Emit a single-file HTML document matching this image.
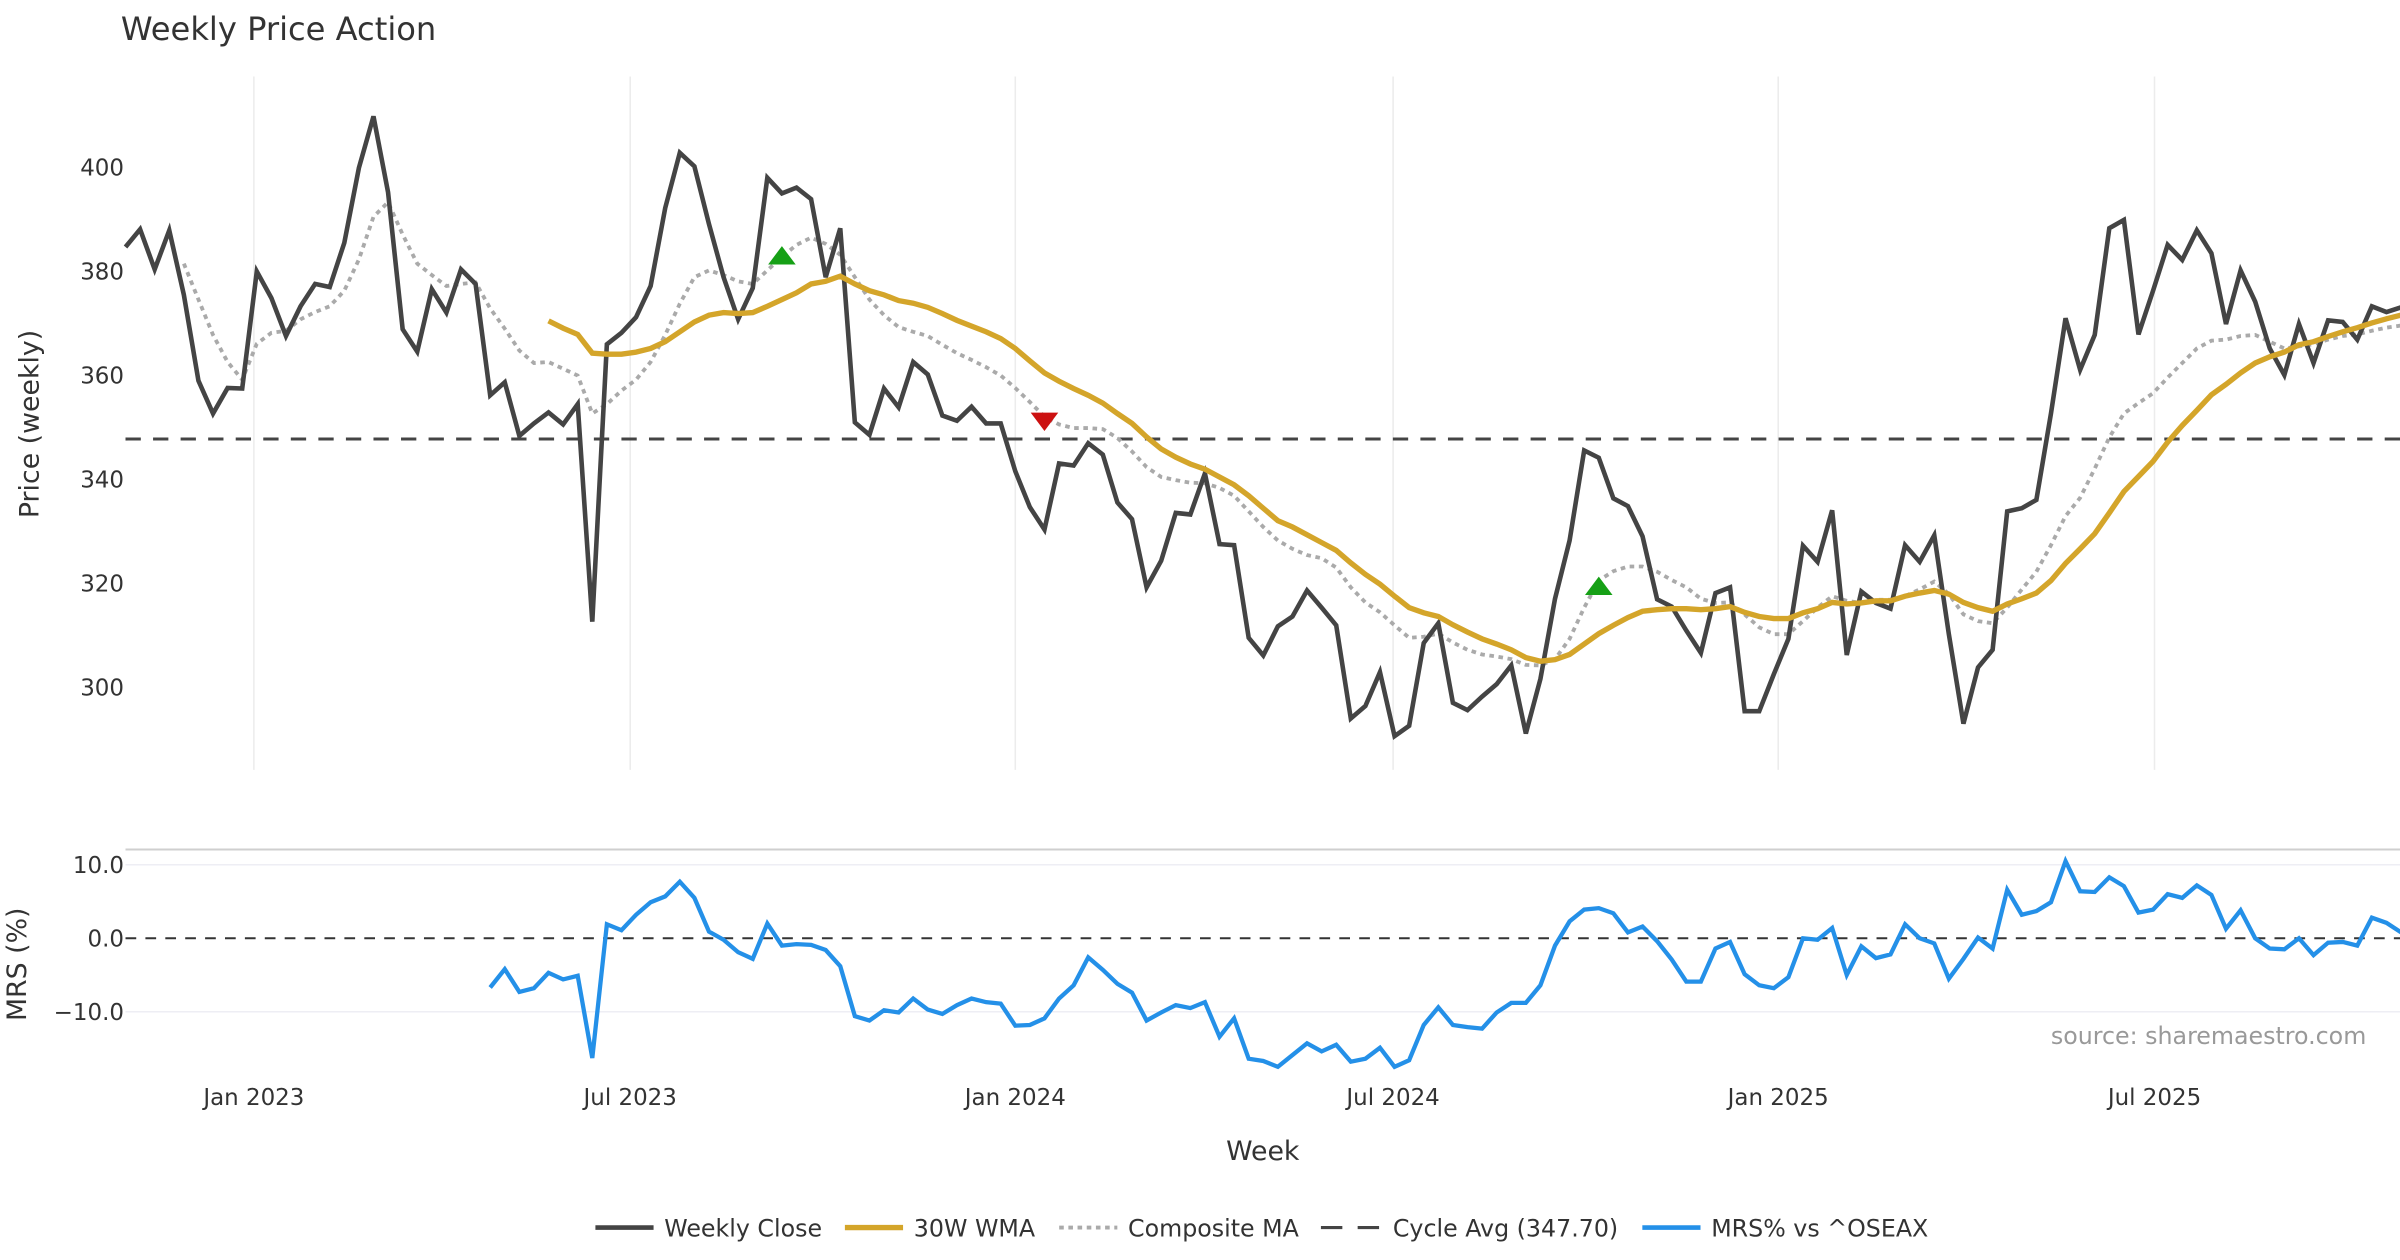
<!DOCTYPE html>
<html><head><meta charset="utf-8"><style>
html,body{margin:0;padding:0;background:#fff;}
svg{display:block;font-family:"DejaVu Sans","Liberation Sans",sans-serif;}
</style></head><body>
<svg id="chart" width="2400" height="1260" viewBox="0 0 1568 823.2">
<text x="79" y="26" font-size="21" fill="#333">Weekly Price Action</text>
<g id="grid"></g>
<g id="axes"></g>
<g id="series"></g>
<text transform="translate(25,277) rotate(-90)" text-anchor="middle" font-size="17.5" fill="#333">Price (weekly)</text>
<text transform="translate(17,630) rotate(-90)" text-anchor="middle" font-size="17.5" fill="#333">MRS (%)</text>
<text x="825" y="758" text-anchor="middle" font-size="17.5" fill="#333">Week</text>
<text x="1546" y="682" text-anchor="end" font-size="15.5" fill="#999">source: sharemaestro.com</text>
<g font-size="15.5" fill="#333">
 <g><line x1="389" y1="802" x2="427" y2="802" stroke="#444" stroke-width="3"/><text x="434" y="808">Weekly Close</text></g>
 <g><line x1="552" y1="802" x2="590" y2="802" stroke="#d4a52a" stroke-width="3.5"/><text x="597" y="808">30W WMA</text></g>
 <g><line x1="692" y1="802" x2="730" y2="802" stroke="#aaa" stroke-width="2.5" stroke-dasharray="3,3"/><text x="737" y="808">Composite MA</text></g>
 <g><line x1="863" y1="802" x2="901" y2="802" stroke="#444" stroke-width="2" stroke-dasharray="14,10"/><text x="910" y="808">Cycle Avg (347.70)</text></g>
 <g><line x1="1073" y1="802" x2="1111" y2="802" stroke="#2490e8" stroke-width="3"/><text x="1118" y="808">MRS% vs ^OSEAX</text></g>
</g>
</svg>
<script>
const closeVals=[384.6,388,380.3,387.8,375.4,358.9,352.6,357.5,357.4,379.9,374.8,367.5,373.2,377.5,376.9,385.4,399.8,409.7,395.1,368.8,364.5,376.5,372,380.3,377.5,356.1,358.6,348.3,350.7,352.8,350.5,354.4,312.6,365.9,368.1,371.1,377.1,392.1,402.7,400.1,
389,378.8,370.7,376.7,397.9,394.9,396,393.8,378.8,388.2,350.9,348.5,357.4,353.8,362.5,360.1,352.2,351.2,353.9,350.7,350.7,341.5,334.6,330.3,343,342.6,346.9,344.7,335.5,332.3,319.2,324.3,333.5,333.2,341.1,327.5,327.3,309.5,306.1,311.7,
313.6,318.6,315.3,311.9,294,296.4,302.9,290.6,292.6,308.5,312.3,297,295.6,298.2,300.6,304.2,291.1,301.6,317,328.2,345.5,344.1,336.3,334.8,329,316.9,315.5,310.9,306.6,318.1,319.2,295.4,295.4,302.5,309.3,327.2,324.1,334,
306.2,318.4,316.2,315.1,327.3,324.1,329.2,310.2,293,303.8,307.2,333.8,334.4,336,352.6,370.9,361,367.7,388.2,389.8,367.8,376.2,385,382.1,387.8,383.4,369.8,380.1,374.1,365.1,360,369.8,362.3,370.5,370.2,366.8,373.2,372.1,373];
const wmaStart=29;
const wmaVals=[370.4,369,367.8,364.2,364,364,364.4,365.1,366.4,368.3,370.2,
371.5,372,371.8,372,373.2,374.5,375.8,377.5,378,379,377.5,376.2,375.4,374.3,373.8,373,371.8,370.5,369.4,368.3,367,365.1,362.7,360.4,358.8,357.4,356.1,354.6,352.6,350.7,348.1,345.8,344.2,342.9,341.9,340.4,338.9,336.8,334.4,332,
330.8,329.3,327.8,326.3,323.9,321.7,319.8,317.5,315.3,314.3,313.6,312,310.6,309.3,308.3,307.2,305.7,305,305.3,306.3,308.3,310.3,311.9,313.4,314.6,314.9,315.1,315.1,314.9,315.1,315.5,314.4,313.6,313.2,313.2,314.3,315.1,316.3,316,316.2,
316.6,316.6,317.5,318.1,318.6,317.9,316.3,315.3,314.6,316,317,318.1,320.5,323.8,326.6,329.5,333.5,337.6,340.5,343.4,347.1,350.3,353.2,356.2,358.2,360.4,362.3,363.5,364.4,365.8,366.4,367.4,368.3,369.1,370,370.8,371.5];
const compStart=4;
const compVals=[381.4,374.5,367.7,362.5,359.1,366,368.1,368.5,370.7,372.1,373.2,376.2,382.2,390.4,393.2,387,381.4,379.2,377.1,377.5,377.8,372.8,368.9,364.7,362.3,362.5,361.2,359.9,352.6,354.4,357,359.1,362.5,367.7,373.7,378.8,
380.1,379.2,378,377.5,380.1,382.7,385,386.4,385.2,383.1,378.8,374.5,371.5,369.2,368.3,367.5,365.8,364.2,362.9,361.5,359.9,357.5,354.8,352,350.5,349.8,349.8,349.6,347.9,345.3,342.3,340.4,339.8,339.3,339.2,338.3,336.8,333.8,330.8,328.2,
326.6,325.4,324.8,323,319.2,316.3,314.4,311.9,309.5,309.7,310.3,308.6,307.2,306.3,305.9,305.4,304.3,304.2,305.4,309.3,315.3,320.5,322.3,323.2,323.2,322.2,320.6,319.2,317,316.2,316.3,314,311.5,310.2,310.2,312.7,315.3,317.5,316.6,316.2,
316.8,316.8,317.5,318.8,320.3,317.9,314,312.7,312.3,315.3,318.8,322.2,327.3,332.9,336.4,342,348,352.6,354.6,356.5,359.5,362.3,365.1,366.6,366.8,367.5,367.7,366.4,365.1,365.5,365.9,366.8,367.5,367.8,368.5,369.1,369.5];
const mrsStart=25;
const mrsVals=[-6.7,-4.2,-7.3,-6.8,-4.7,-5.6,-5.1,-16.3,1.9,1.1,3.2,4.9,5.7,7.7,5.5,0.9,-0.2,-1.9,-2.8,2,-1,-0.8,-0.9,-1.6,-3.8,-10.6,-11.2,-9.8,-10.1,-8.2,-9.7,-10.3,-9.1,-8.2,-8.7,-8.9,-11.9,-11.8,-10.9,
-8.2,-6.4,-2.6,-4.3,-6.2,-7.4,-11.2,-10.1,-9.1,-9.5,-8.7,-13.4,-10.9,-16.4,-16.7,-17.5,-15.9,-14.3,-15.4,-14.5,-16.8,-16.4,-14.9,-17.5,-16.6,-11.8,-9.4,-11.8,-12.1,-12.3,-10.1,-8.8,-8.8,-6.4,-1,2.3,3.9,4.1,3.4,0.8,1.6,
-0.4,-2.9,-5.9,-5.9,-1.4,-0.5,-4.9,-6.4,-6.8,-5.3,0,-0.2,1.4,-5,-1.1,-2.7,-2.2,1.9,0,-0.7,-5.5,-2.8,0.1,-1.4,6.6,3.2,3.7,4.9,10.5,6.4,6.3,8.3,7.1,3.5,3.9,6,5.5,7.2,5.9,1.3,3.8,0,-1.4,-1.5,0,-2.3,-0.6,-0.5,-1,2.8,2.1,0.8];
const cycleAvg=347.7;
const signalWeeks=[45,63,101];
const signalPrices=[383,351,319.5];
const signalTypes=["up","down","up"];
const priceTicks=[300,320,340,360,380,400];
const mrsTicks=[-10,0,10];
const mrsTickLabels=["−10.0","0.0","10.0"];
const dateTickWeeks=[8.8,34.6,61,86.9,113.3,139.1];
const dateTickLabels=["Jan 2023","Jul 2023","Jan 2024","Jul 2024","Jan 2025","Jul 2025"];

const NS="http://www.w3.org/2000/svg";
const X=w=>82+9.53*w;
const YP=p=>109+(400-p)*3.4;
const YM=v=>613-v*4.8;
function mk(tag,attrs,parent){const e=document.createElementNS(NS,tag);for(const k in attrs)e.setAttribute(k,attrs[k]);parent.appendChild(e);return e;}
const grid=document.getElementById('grid'),axes=document.getElementById('axes'),series=document.getElementById('series');

dateTickWeeks.forEach((w,i)=>{
  const l=mk('line',{x1:X(w),x2:X(w),y1:50,y2:503,stroke:'#ececec','stroke-width':1},grid);
  
  
  const t=mk('text',{x:X(w),y:722,'text-anchor':'middle','font-size':15,fill:'#333'},axes);
  t.textContent=dateTickLabels[i];
  
  
});
priceTicks.forEach(p=>{
  const t=mk('text',{x:81,y:YP(p)+5.5,'text-anchor':'end','font-size':15,fill:'#333'},axes);
  t.textContent=p;
  
  
});
const sep=mk('line',{x1:82,x2:1568,y1:555,y2:555,stroke:'#cfcfcf','stroke-width':1.3},grid);


mrsTicks.forEach((v,i)=>{
  if(v!==0){const g=mk('line',{x1:82,x2:1568,y1:YM(v),y2:YM(v),stroke:'#eeeef4','stroke-width':1},grid);
  
  }
  const t=mk('text',{x:81,y:YM(v)+5.5,'text-anchor':'end','font-size':15,fill:'#333'},axes);
  t.textContent=mrsTickLabels[i];
  
  
});
const z=mk('line',{x1:82,x2:1568,y1:YM(0),y2:YM(0),stroke:'#333','stroke-width':1.3,'stroke-dasharray':'7,6'},series);



function path(vals,start,yf){return vals.map((v,i)=>(i?'L':'M')+X(start+i).toFixed(2)+','+yf(v).toFixed(2)).join(' ');}
const cyc=mk('line',{x1:82,x2:1568,y1:YP(cycleAvg),y2:YP(cycleAvg),stroke:'#444','stroke-width':2,'stroke-dasharray':'10,8'},series);


const comp=mk('path',{d:path(compVals,compStart,YP),fill:'none',stroke:'#aaa','stroke-width':2.5,'stroke-dasharray':'3,3'},series);


const cl=mk('path',{d:path(closeVals,0,YP),fill:'none',stroke:'#444','stroke-width':3,'stroke-linejoin':'miter'},series);


const wma=mk('path',{d:path(wmaVals,wmaStart,YP),fill:'none',stroke:'#d4a52a','stroke-width':3.5},series);


const mrs=mk('path',{d:path(mrsVals,mrsStart,YM),fill:'none',stroke:'#2490e8','stroke-width':2.8},series);


signalWeeks.forEach((w,i)=>{
  const cx=X(w),cy=YP(signalPrices[i]);
  const pts=signalTypes[i]==='up'?`${cx-9},${cy+6} ${cx+9},${cy+6} ${cx},${cy-6}`:`${cx-9},${cy-6} ${cx+9},${cy-6} ${cx},${cy+6}`;
  const m=mk('polygon',{points:pts,fill:signalTypes[i]==='up'?'#16a016':'#cc1111'},series);
  
  
});
</script>
</body></html>
